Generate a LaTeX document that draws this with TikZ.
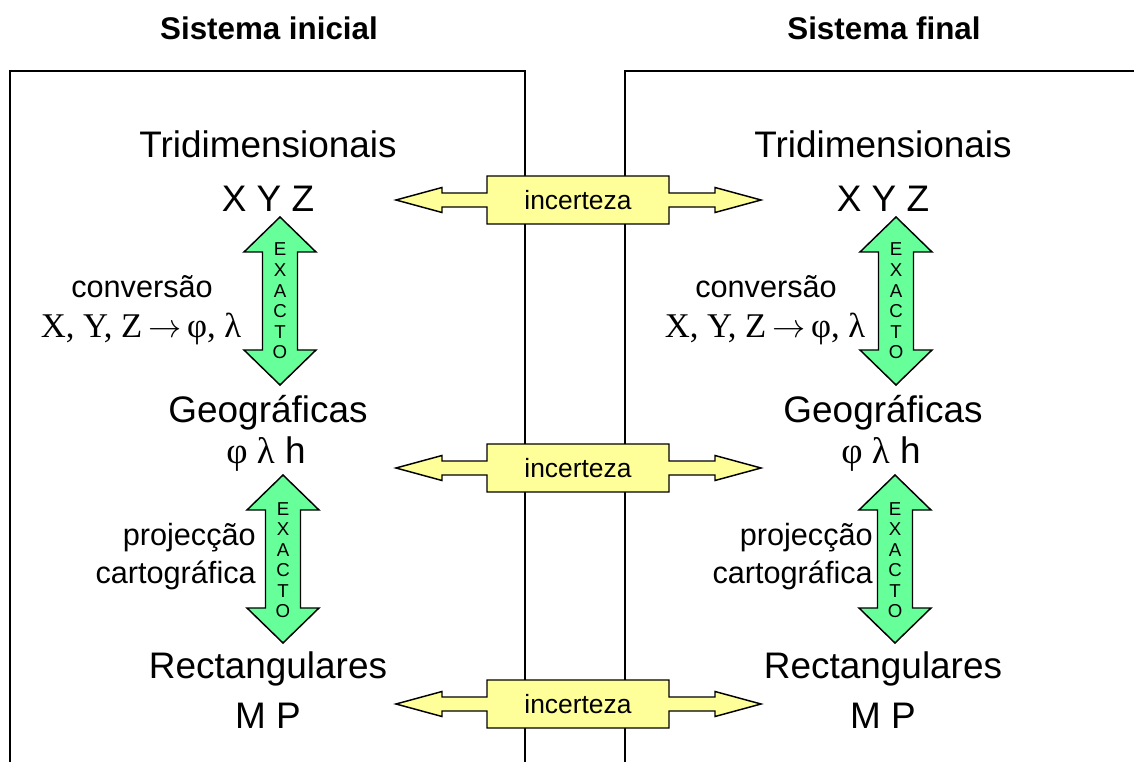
\documentclass[tikz,border=0pt]{standalone}
\usepackage{fontspec}
\setmainfont{Liberation Sans}
\newfontfamily\timesfont{Liberation Serif}
\definecolor{exactgreen}{RGB}{102,255,153}
\definecolor{uncyellow}{RGB}{255,255,153}
\tikzset{
  coordtext/.style={font=\fontsize{27.7}{30}\selectfont, anchor=base, inner sep=0pt},
  titletext/.style={font=\bfseries\fontsize{23.5}{26}\selectfont, anchor=base, inner sep=0pt},
  sidetext/.style={font=\fontsize{23}{26}\selectfont, anchor=base, inner sep=0pt},
  formulatext/.style={font=\timesfont\fontsize{26}{28}\selectfont, anchor=base, inner sep=0pt},
  exacttext/.style={font=\fontsize{14}{15.4}\selectfont, align=center, inner sep=0pt},
  unctext/.style={font=\fontsize{19.8}{22}\selectfont, inner sep=0pt},
  outline/.style={draw=black, line width=1.1pt, line join=miter}
}
% green double arrow: centre x, top y, bottom y
\newcommand{\exactarrow}[3]{%
  \draw[outline, fill=exactgreen] (#1,#2) -- (#1+36,#2+35) -- (#1+17.5,#2+35)
    -- (#1+17.5,#3-35) -- (#1+36,#3-35) -- (#1,#3) -- (#1-36,#3-35)
    -- (#1-17.5,#3-35) -- (#1-17.5,#2+35) -- (#1-36,#2+35) -- cycle;
}
% yellow double arrow with box: centre y
\newcommand{\uncarrow}[1]{%
  \draw[outline, fill=uncyellow] (396,#1) -- (442,#1-12.5) -- (442,#1-7)
    -- (487,#1-7) -- (487,#1-24) -- (669,#1-24) -- (669,#1-7) -- (715,#1-7)
    -- (715,#1-12.5) -- (761,#1) -- (715,#1+12.5) -- (715,#1+7) -- (669,#1+7)
    -- (669,#1+24) -- (487,#1+24) -- (487,#1+7) -- (442,#1+7) -- (442,#1+12.5) -- cycle;
}
\begin{document}
\begin{tikzpicture}[x=0.75pt, y=-0.75pt]
  \useasboundingbox (0,0) rectangle (1134,762);

  % frames of the two systems
  \draw[line width=1.1pt] (10,762) -- (10,71) -- (525,71) -- (525,762);
  \draw[line width=1.1pt] (625,762) -- (625,71) -- (1134,71);

  % titles
  \node[titletext] (titleL) at (269,40) {Sistema inicial};
  \node[titletext] (titleR) at (884,40) {Sistema final};

  % uncertainty arrows between the systems
  \uncarrow{200}
  \uncarrow{468}
  \uncarrow{704}
  \node[unctext] (unc1) at (578,200) {incerteza};
  \node[unctext] (unc2) at (578,468) {incerteza};
  \node[unctext] (unc3) at (578,704) {incerteza};

  % both columns
  \foreach \s/\cx/\ax/\bx/\lx/\px in {L/268/280/283/141/256, R/883/896/895/765/873} {
    \node[coordtext] (tri\s) at (\cx,158) {Tridimensionais};
    \node[coordtext] (xyz\s) at (\cx,212) {X Y Z};
    \node[coordtext] (geo\s) at (\cx,422) {Geográficas};
    \node[coordtext] (plh\s) at (\cx-2,463) {{\timesfont φ λ} h};
    \node[coordtext] (rec\s) at (\cx,678) {Rectangulares};
    \node[coordtext] (mp\s) at (\cx,728) {M P};

    \exactarrow{\ax}{217}{385}
    \exactarrow{\bx}{475}{643}
    \node[exacttext] (exa\s) at (\ax,301) {E\\X\\A\\C\\T\\O};
    \node[exacttext] (exb\s) at (\bx,560) {E\\X\\A\\C\\T\\O};

    \node[sidetext] (conv\s) at (\lx+1,298) {conversão};
    \node[formulatext] (form\s) at (\lx,338) {X, Y, Z\,$\rightarrow$\,φ, λ};
    \node[sidetext, anchor=base east] (proj\s) at (\px,545) {projecção};
    \node[sidetext, anchor=base east] (cart\s) at (\px,583) {cartográfica};
  }
\end{tikzpicture}
\end{document}
